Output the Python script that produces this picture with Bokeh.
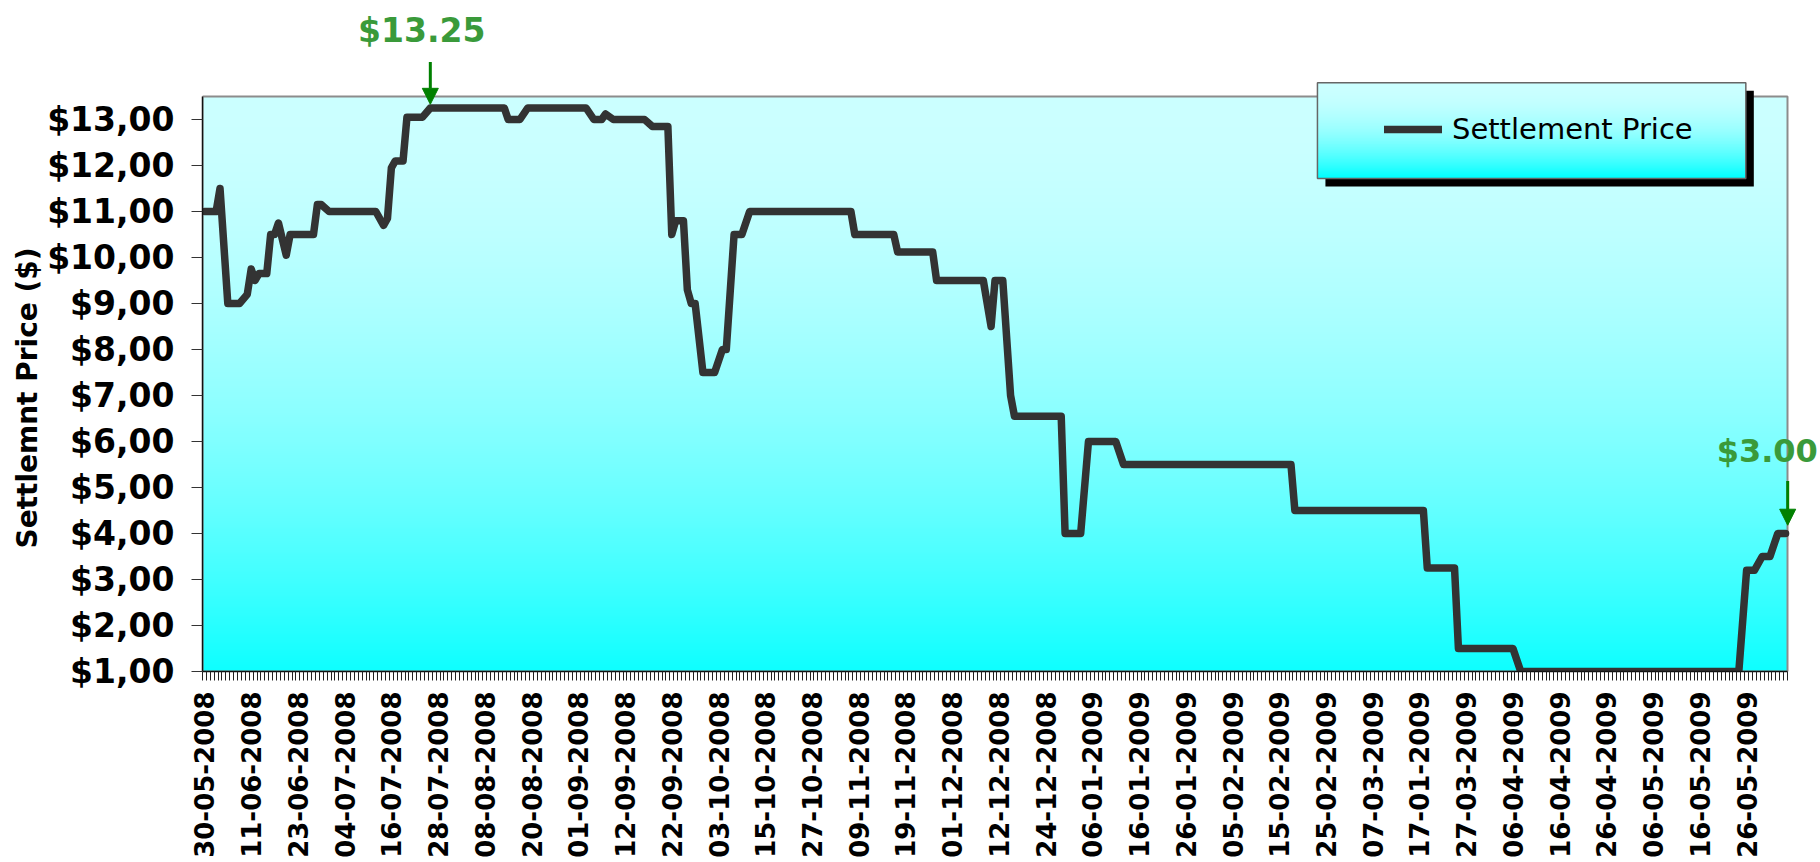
import numpy as np
from bokeh.plotting import figure
from bokeh.models import (Range1d, FixedTicker, Label, Arrow, NormalHead,
                          Legend, LegendItem, Title)
from bokeh.embed import file_html
from bokeh.resources import INLINE

# ---- data -------------------------------------------------------------
# Session number (category position) of each turning point of the series
session_index = [0, 3, 4, 6, 9, 11, 12, 13, 14, 16, 17, 18, 19, 21, 22, 28, 29,
                 30, 32, 44, 46, 47, 48, 49, 51, 52, 56, 58, 77, 78, 81, 83, 98,
                 100, 102, 103, 105, 113, 115, 119, 120, 121, 123, 124, 125, 126,
                 128, 131, 133, 134, 136, 138, 140, 166, 167, 177, 178, 187, 188,
                 200, 202, 203, 205, 207, 208, 220, 221, 225, 227, 234, 236, 279,
                 280, 313, 314, 321, 322, 336, 338, 394, 396, 398, 400, 402, 404,
                 406]
# Settlement price ($) at those sessions
settlement_price = [11.0, 11.0, 11.5, 9.0, 9.0, 9.2, 9.75, 9.5, 9.65, 9.65, 10.5,
                    10.5, 10.75, 10.05, 10.5, 10.5, 11.15, 11.15, 11.0, 11.0, 10.7,
                    10.85, 11.95, 12.1, 12.1, 13.05, 13.05, 13.25, 13.25, 13.0,
                    13.0, 13.25, 13.25, 13.0, 13.0, 13.12, 13.0, 13.0, 12.85,
                    12.85, 10.5, 10.8, 10.8, 9.3, 9.0, 9.0, 7.5, 7.5, 8.0, 8.0,
                    10.5, 10.5, 11.0, 11.0, 10.5, 10.5, 10.12, 10.12, 9.5, 9.5,
                    8.5, 9.5, 9.5, 7.0, 6.55, 6.55, 4.0, 4.0, 6.0, 6.0, 5.5, 5.5,
                    4.5, 4.5, 3.25, 3.25, 1.5, 1.5, 1.0, 1.0, 3.2, 3.2, 3.5, 3.5,
                    4.0, 4.0]
n_sessions = 407
label_step = 12

date_labels = ["30-05-2008", "11-06-2008", "23-06-2008", "04-07-2008",
               "16-07-2008", "28-07-2008", "08-08-2008", "20-08-2008",
               "01-09-2008", "12-09-2008", "22-09-2008", "03-10-2008",
               "15-10-2008", "27-10-2008", "09-11-2008", "19-11-2008",
               "01-12-2008", "12-12-2008", "24-12-2008", "06-01-2009",
               "16-01-2009", "26-01-2009", "05-02-2009", "15-02-2009",
               "25-02-2009", "07-03-2009", "17-01-2009", "27-03-2009",
               "06-04-2009", "16-04-2009", "26-04-2009", "06-05-2009",
               "16-05-2009", "26-05-2009"]

y_tick_values = [1, 2, 3, 4, 5, 6, 7, 8, 9, 10, 11, 12, 13]
y_tick_labels = ["$1,00", "$2,00", "$3,00", "$4,00", "$5,00", "$6,00", "$7,00",
                 "$8,00", "$9,00", "$10,00", "$11,00", "$12,00", "$13,00"]

end_note = "$3.00"

# ---- geometry ---------------------------------------------------------
W, H = 1820, 862
LEFT, BOTTOM = 202, 191
PLOT_W, PLOT_H = 1585, 575          # size of the value area in pixels
Y_MIN, Y_MAX = 1, 13.5
X_MIN, X_MAX = -0.5, n_sessions - 0.5

# the frame reaches the top and right edges so that notes and the legend
# box above / beside the value area are not clipped
frame_w, frame_h = W - LEFT, H - BOTTOM
x_end = X_MIN + (X_MAX - X_MIN) * frame_w / PLOT_W
y_end = Y_MIN + (Y_MAX - Y_MIN) * frame_h / PLOT_H

p = figure(width=W, height=H, output_backend="svg", toolbar_location=None,
           title=None, x_range=Range1d(X_MIN, x_end), y_range=Range1d(Y_MIN, y_end),
           min_border_left=LEFT, min_border_right=0, min_border_top=0,
           min_border_bottom=BOTTOM)
p.border_fill_color = "white"
p.background_fill_color = "white"
p.outline_line_color = None
p.xgrid.visible = False
p.ygrid.visible = False

# vertical cyan gradient of the value area
rows = 256
t = np.linspace(1.0, 0.0, rows)          # 0 = top, 1 = bottom
red = 204 - 190 * t ** 1.8
grad = np.empty((rows, 1), dtype=np.uint32)
view = grad.view(dtype=np.uint8).reshape((rows, 1, 4))
view[:, 0, 0] = red.astype(np.uint8)
view[:, 0, 1] = 255
view[:, 0, 2] = 255
view[:, 0, 3] = 255
p.image_rgba(image=[grad], x=X_MIN, y=Y_MIN, dw=X_MAX - X_MIN, dh=Y_MAX - Y_MIN)
p.quad(left=[X_MIN], right=[X_MAX], bottom=[Y_MIN], top=[Y_MAX],
       fill_color=None, line_color="#8c8c8c", line_width=2)

line = p.line(session_index, settlement_price, line_color="#333333",
              line_width=7.5, line_join="round", line_cap="round")

# ---- axes -------------------------------------------------------------
label_pos = [i * label_step for i in range(len(date_labels))]
xa = p.xaxis[0]
xa.bounds = (X_MIN, X_MAX)
xa.ticker = FixedTicker(ticks=label_pos,
                        minor_ticks=[i - 0.5 for i in range(n_sessions + 1)])
xa.major_label_overrides = {pos: lab for pos, lab in zip(label_pos, date_labels)}
xa.major_label_orientation = np.pi / 2
xa.major_label_text_font = "DejaVu Sans"
xa.major_label_text_font_style = "bold"
xa.major_label_text_font_size = "26px"
xa.major_label_text_color = "black"
xa.major_label_standoff = 11
xa.major_tick_line_color = None
xa.major_tick_out = 9
xa.major_tick_in = 0
xa.minor_tick_out = 9
xa.minor_tick_in = 0
xa.minor_tick_line_color = "#222222"
xa.minor_tick_line_width = 1
xa.axis_line_color = "#111111"
xa.axis_line_width = 1.5

ya = p.yaxis[0]
ya.bounds = (Y_MIN, Y_MAX)
ya.ticker = FixedTicker(ticks=y_tick_values, minor_ticks=[])
ya.major_label_overrides = {v: lab for v, lab in zip(y_tick_values, y_tick_labels)}
ya.major_label_text_font = "DejaVu Sans"
ya.major_label_text_font_style = "bold"
ya.major_label_text_font_size = "33px"
ya.major_label_text_color = "black"
ya.major_label_standoff = 17
ya.major_tick_out = 11
ya.major_tick_in = 0
ya.major_tick_line_color = "#333333"
ya.minor_tick_line_color = None
ya.axis_line_color = "#111111"
ya.axis_line_width = 1.5

p.add_layout(Title(text="Settlemnt Price ($)", align="left", offset=123,
                   text_font="DejaVu Sans", text_font_style="bold",
                   text_font_size="28px", text_color="black", standoff=2), "left")

# ---- notes ------------------------------------------------------------
GREEN_TXT = "#3a9a3a"
GREEN_ARW = "#008000"
peak = max(settlement_price)
peak_at = session_index[settlement_price.index(peak)]
p.add_layout(Arrow(end=NormalHead(size=16, fill_color=GREEN_ARW, line_color=GREEN_ARW),
                   x_start=peak_at, y_start=peak + 1.0, x_end=peak_at, y_end=peak + 0.08,
                   line_color=GREEN_ARW, line_width=3))
p.add_layout(Label(x=peak_at - 2.2, y=peak + 1.69, text="$%.2f" % peak,
                   text_font="DejaVu Sans", text_font_style="bold",
                   text_font_size="33px", text_color=GREEN_TXT,
                   text_align="center", text_baseline="middle"))

last_at = session_index[-1]
last_val = settlement_price[-1]
p.add_layout(Arrow(end=NormalHead(size=16, fill_color=GREEN_ARW, line_color=GREEN_ARW),
                   x_start=last_at + 0.55, y_start=last_val + 1.14,
                   x_end=last_at + 0.55, y_end=last_val + 0.18,
                   line_color=GREEN_ARW, line_width=3))
p.add_layout(Label(x=last_at - 4.7, y=last_val + 1.79, text=end_note,
                   text_font="DejaVu Sans", text_font_style="bold",
                   text_font_size="32px", text_color=GREEN_TXT,
                   text_align="center", text_baseline="middle"))

# ---- legend box (shadow, gradient fill, frame) ------------------------
LX0, LX1 = 285.8, 395.8        # x extent in session units
LY0, LY1 = 11.72, 13.80        # y extent in price units
p.quad(left=[LX0 + 2.05], right=[LX1 + 2.05], bottom=[LY0 - 0.175],
       top=[LY1 - 0.175], fill_color="black", line_color=None)
lrows = 128
f = np.linspace(1.0, 0.0, lrows)          # 0 = top, 1 = bottom
lred = 204 * (1 - f ** 2)
lgrad = np.empty((lrows, 1), dtype=np.uint32)
lview = lgrad.view(dtype=np.uint8).reshape((lrows, 1, 4))
lview[:, 0, 0] = lred.astype(np.uint8)
lview[:, 0, 1] = 255
lview[:, 0, 2] = 255
lview[:, 0, 3] = 255
p.image_rgba(image=[lgrad], x=LX0, y=LY0, dw=LX1 - LX0, dh=LY1 - LY0, level="glyph")
p.quad(left=[LX0], right=[LX1], bottom=[LY0], top=[LY1],
       fill_color=None, line_color="#666666", line_width=1.5)

legend = Legend(items=[LegendItem(label="Settlement Price", renderers=[line])],
                location=(1182, 522), padding=0, spacing=0, margin=0,
                glyph_width=58, glyph_height=40, label_height=40,
                label_standoff=10, label_text_font="DejaVu Sans",
                label_text_font_size="29px", label_text_color="black",
                border_line_color=None, background_fill_alpha=0)
p.add_layout(legend)

open("out.html", "w").write(file_html(p, INLINE))
